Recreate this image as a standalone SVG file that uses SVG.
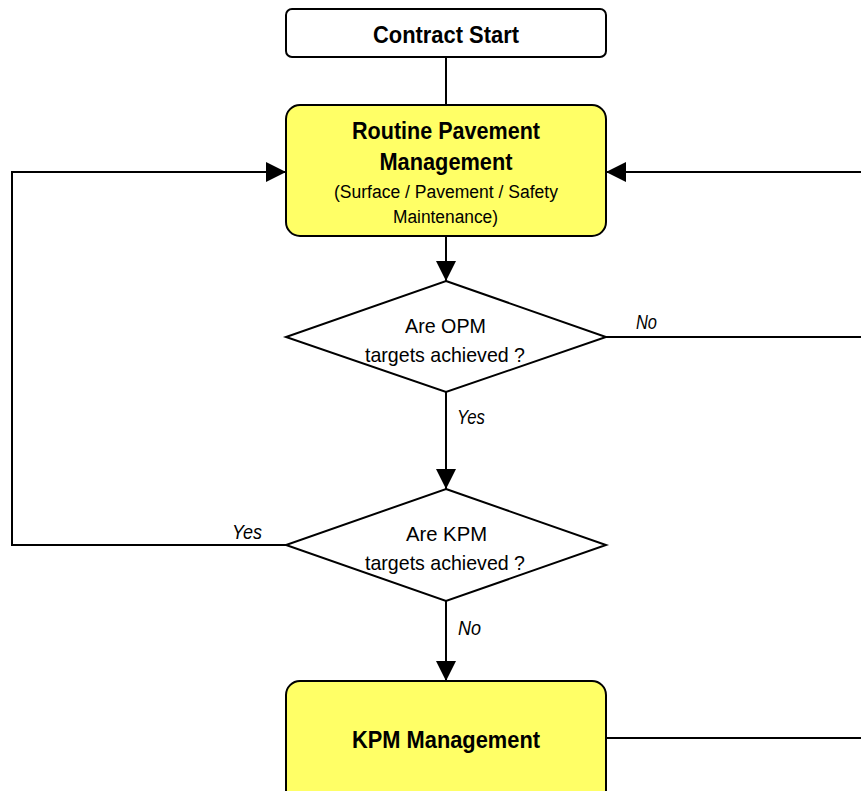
<svg xmlns="http://www.w3.org/2000/svg" width="861" height="791" viewBox="0 0 861 791">
<style>
.box{stroke:#000;stroke-width:2}
.y{fill:#ffff66}
.w{fill:#fff}
.c{fill:none;stroke:#000;stroke-width:2}
text{font-family:"Liberation Sans",Arial,sans-serif;text-anchor:middle;fill:#000}
.b{font-weight:bold;font-size:24px}
.n{font-size:21px}
.s{font-size:18px}
.i{font-style:italic;font-size:20px}
</style>
<defs>
<marker id="ah" viewBox="0 0 20 20" refX="20" refY="10" markerWidth="20" markerHeight="20" markerUnits="userSpaceOnUse" orient="auto">
<path d="M0,0 L20,10 L0,20 Z" fill="#000"/>
</marker>
</defs>
<g id="connectors">
<line class="c" x1="446" y1="57" x2="446" y2="105"/>
<line class="c" x1="446" y1="236" x2="446" y2="281" marker-end="url(#ah)"/>
<line class="c" x1="446" y1="392" x2="446" y2="489" marker-end="url(#ah)"/>
<line class="c" x1="446" y1="601" x2="446" y2="681" marker-end="url(#ah)"/>
<line class="c" x1="606" y1="337" x2="862" y2="337"/>
<line class="c" x1="862" y1="172" x2="606" y2="172" marker-end="url(#ah)"/>
<polyline class="c" points="286,545 12,545 12,172 286,172" marker-end="url(#ah)"/>
<line class="c" x1="606" y1="738" x2="862" y2="738"/>
<text class="i" x="646.5" y="329" textLength="21" lengthAdjust="spacingAndGlyphs">No</text>
<text class="i" x="471" y="424" textLength="28" lengthAdjust="spacingAndGlyphs">Yes</text>
<text class="i" x="247" y="539" textLength="30" lengthAdjust="spacingAndGlyphs">Yes</text>
<text class="i" x="469.5" y="635" textLength="23" lengthAdjust="spacingAndGlyphs">No</text>
</g>
<g id="contract-start">
<rect class="box w" x="286" y="9" width="320" height="48" rx="6"/>
<text class="b" x="446" y="43" textLength="146" lengthAdjust="spacingAndGlyphs">Contract Start</text>
</g>
<g id="routine">
<rect class="box y" x="286" y="105" width="320" height="131" rx="14"/>
<text class="b" x="446" y="139" textLength="188" lengthAdjust="spacingAndGlyphs">Routine Pavement</text>
<text class="b" x="446" y="170" textLength="133" lengthAdjust="spacingAndGlyphs">Management</text>
<text class="s" x="446" y="198" textLength="224" lengthAdjust="spacingAndGlyphs">(Surface / Pavement / Safety</text>
<text class="s" x="445.5" y="223" textLength="105" lengthAdjust="spacingAndGlyphs">Maintenance)</text>
</g>
<g id="opm-decision">
<polygon class="box w" points="446,281 606,337 446,392 286,337"/>
<text class="n" x="445.5" y="333" textLength="81" lengthAdjust="spacingAndGlyphs">Are OPM</text>
<text class="n" x="445" y="362" textLength="160" lengthAdjust="spacingAndGlyphs">targets achieved ?</text>
</g>
<g id="kpm-decision">
<polygon class="box w" points="446,489 606,545 446,601 286,545"/>
<text class="n" x="446.5" y="541" textLength="81" lengthAdjust="spacingAndGlyphs">Are KPM</text>
<text class="n" x="445" y="570" textLength="160" lengthAdjust="spacingAndGlyphs">targets achieved ?</text>
</g>
<g id="kpm-management">
<rect class="box y" x="286" y="681" width="320" height="130" rx="14"/>
<text class="b" x="446" y="748" textLength="188" lengthAdjust="spacingAndGlyphs">KPM Management</text>
</g>
</svg>
